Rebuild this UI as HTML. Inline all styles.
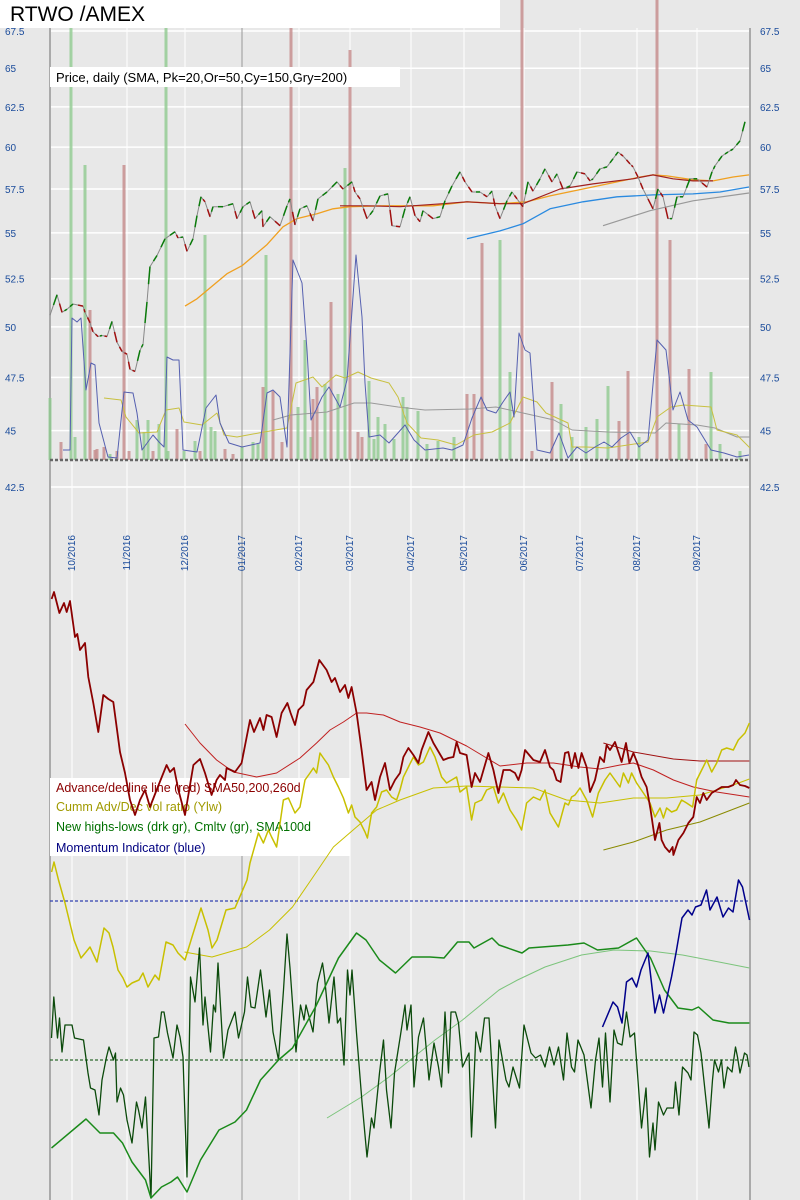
<!DOCTYPE html>
<html><head><meta charset="utf-8">
<style>
html,body{margin:0;padding:0;background:#e8e8e8;}
svg{display:block;font-family:"Liberation Sans","DejaVu Sans",sans-serif;}
</style></head>
<body>
<svg id="chart" width="800" height="1200" viewBox="0 0 800 1200" xmlns="http://www.w3.org/2000/svg">
<rect x="0" y="0" width="800" height="1200" fill="#e8e8e8"/>
<g id="grid"></g>
<g id="legend2">
<rect x="50" y="778" width="300" height="78" fill="#fff"/>
<text x="56" y="792" font-size="12.5" fill="#8b0000">Advance/decline line (red) SMA50,200,260d</text>
<text x="56" y="811" font-size="12.5" fill="#a09a00">Cumm Adv/Dec vol ratio (Ylw)</text>
<text x="56" y="831" font-size="12.5" fill="#007000">New highs-lows (drk gr), Cmltv (gr), SMA100d</text>
<text x="56" y="852" font-size="12.5" fill="#000080">Momentum Indicator (blue)</text>
</g>
<g id="topPanel"></g>
<g id="bottomPanel"></g>
<rect x="0" y="0" width="500" height="28" fill="#fff"/>
<text x="10" y="21" font-size="21" fill="#000">RTWO /AMEX</text>
<rect x="50" y="67" width="350" height="20" fill="#fff"/>
<text x="56" y="82" font-size="13" fill="#000">Price, daily (SMA, Pk=20,Or=50,Cy=150,Gry=200)</text>
</svg>
<script>
// ---------- data ----------
const priceTicks = [67.5,65,62.5,60,57.5,55,52.5,50,47.5,45,42.5];
const monthLabels = ["10/2016","11/2016","12/2016","01/2017","02/2017","03/2017","04/2017","05/2017","06/2017","07/2017","08/2017","09/2017"];
const monthT = [4.4,15.4,27,38.4,49.8,60,72.2,82.8,94.8,106,117.4,129.4];
const priceT = [0,1.4,2.4,3.4,4.6,6.6,7,8,8.6,9.6,10.4,11.4,12.4,13.4,14.4,15.4,16,17,18,18.6,19.4,20,21.4,23,25,25.6,26.6,27.4,28.6,29.4,30.2,31,32,32.6,34.6,36.6,37.4,38.6,40,41,42.4,42.6,44,46,47.4,48,49,50,51.4,52.6,53.6,55.4,57.4,58.6,60.4,61,62,63.4,64.6,66,67.6,68.4,70,71,72,73,74,74.6,76.6,78,79,80.4,82,83,84.4,86,87.4,88.4,89,90,91.4,92.4,93.4,94.6,95.6,96.6,98,99,100.4,101.4,102.6,104,105.4,107,108,108.6,110,111.4,112.6,113.6,114.6,116,116.6,117.6,118.6,120.6,121.6,122.6,123.6,124.4,125.4,126.6,128,129.4,131.4,132.4,133,134.4,135.6,136.6,138,139,139.8];
const priceV = [50.59,51.65,50.74,50.9,51.17,51.06,50.74,50.21,49.75,49.51,49.56,49.51,50.27,49.22,48.77,48.63,47.89,47.79,48.82,49.12,51.28,53.15,53.75,54.67,55.06,54.72,54.77,53.98,54.67,55.97,57.05,56.76,55.91,56.48,56.48,56.65,55.8,56.48,56.76,55.8,56.25,55.34,55.91,55.4,56.53,56.93,55.45,56.36,56.53,55.68,56.93,57.33,57.92,57.5,57.92,57.33,56.93,55.8,56.25,57.1,57.22,55.4,55.34,56.36,57.05,55.97,55.63,56.25,55.8,55.91,56.82,57.68,58.51,57.92,57.33,57.33,57.05,57.38,56.53,55.8,56.82,57.33,56.93,56.48,57.92,57.38,58.1,58.69,57.92,58.39,57.5,57.68,58.51,58.39,57.98,58.1,58.69,58.81,59.29,59.7,59.46,58.99,58.81,58.21,57.5,56.36,57.5,57.05,55.8,55.8,57.05,57.05,58.1,58.1,57.62,58.51,58.87,59.46,59.7,59.88,60.38,61.56];
const sma20T = [58,63.4,70,78.6,83.4,90,94.6,102,108.6,116.6,120.6,124.6,128.6,132.6];
const sma20V = [56.53,56.53,56.48,56.65,56.76,56.65,56.65,57.5,57.8,58.1,58.33,58.1,57.98,57.98];
const sma50T = [27,29.4,35.4,38.4,43.4,46.6,49.4,53.4,56.6,60,66.6,70,76.6,83.4,90,95.4,100,106.6,113.4,118,120.6,123.4,128.6,132.6,136.6,139.8];
const sma50V = [51.06,51.44,52.77,53.2,54.35,55.34,55.8,56.08,56.36,56.48,56.53,56.53,56.53,56.76,56.65,56.76,57.1,57.5,57.92,58.21,58.33,58.27,58.04,57.98,58.21,58.33];
const sma150T = [83.4,90,94.6,100,106.6,113.4,120.6,128.6,134,139.8];
const sma150V = [54.67,55.11,55.51,56.36,56.76,57.05,57.16,57.22,57.33,57.62];
const sma200T = [110.6,120,128.6,139.8];
const sma200V = [55.4,56.25,56.82,57.27];
const volT = [0,2.2,4.2,5,7,8,9,9.4,10.8,12,13.4,14.8,15.8,17.4,18.8,19.6,20.6,21.8,23.2,23.6,25.4,26.8,29,30,31,32.2,33,35,36.6,38.4,40.6,41.6,42.6,43.2,44.6,46.4,48.2,49.6,51,52.2,52.6,53.4,55,56.2,57.6,59,60,61.6,62.4,63.8,64.8,65.6,67,68.8,70.6,71.4,73.6,75.4,77.6,80.8,83.4,84.8,86.4,90,92,94.4,96.4,100.4,102.2,104.4,107.2,109.4,111.6,113.8,115.6,117.8,121.4,124,125.8,127.8,131.2,132.2,134,138];
const volV = [62,18,460,23,295,150,10,11,13,6,9,295,9,40,28,40,9,36,460,9,31,9,19,9,225,33,29,11,6,13,18,16,73,205,69,18,460,53,120,23,61,73,76,158,66,292,410,28,23,79,21,43,36,21,63,53,49,16,19,23,66,66,217,220,88,460,9,78,56,23,33,41,74,39,89,23,460,220,36,91,16,88,16,9];
const volUp = [1,0,1,1,1,0,0,0,0,1,0,0,0,1,1,1,0,1,1,1,0,1,1,0,1,1,1,0,0,1,1,1,0,1,0,0,0,1,1,1,0,0,1,0,1,1,0,0,0,1,1,1,1,1,1,1,1,1,1,1,0,0,0,1,1,0,0,0,1,1,1,1,1,0,0,1,0,0,1,0,0,1,1,1];
const osc1T = [2.6,4,4.4,5.4,6.2,7.2,8.2,9,9.8,11.6,13.4,14.8,16.6,17.4,18.4,20.6,21.8,22.8,23.4,24.6,25.8,26.6,29.4,31.2,33.2,34,35.8,38.4,42,43.4,44.6,46,47.4,48.6,50.4,51.4,52.2,53.2,54.4,55.8,58,59.4,61.2,62.4,63,63.8,66,67.8,71,72.8,75,78.6,80.4,82.6,84.4,86.2,87.4,89.2,90.6,92,92.8,93.8,95,96,97.4,100,101.8,103.6,105.4,107.2,109,110.8,112.4,114.2,116,117.8,119.6,121.4,123.2,124.6,126,127.6,129.4,132.2,134.8,137.4,139.8];
const osc1V = [10,10,142,138,142,70,97,95,37,3,2,68,67,47,10,25,18,13,103,100,100,10,8,52,65,37,17,13,17,67,70,63,13,200,177,110,40,50,63,73,53,80,205,143,77,23,25,17,35,20,10,12,10,15,42,63,50,47,58,68,43,127,110,107,10,7,27,2,13,7,13,18,13,22,28,13,20,120,110,50,68,40,33,10,7,3,5];
const ylwTopT = [10.8,14.2,15.2,17.8,21.4,23.2,25.8,26.8,30.4,33.4,34.8,37.4,42.8,47.4,49.2,52.6,54.4,57.2,59,61.6,64.2,67.8,69.6,71.4,74.2,77.6,81.2,84.8,88.4,92,94.6,97.4,99.2,103.6,104.4,107.2,111.6,119.6,121.4,124.2,126.8,132.2,133.4,137.4,140];
const ylwTopV = [62,60,43,27,28,50,52,38,35,47,25,23,28,32,77,83,73,85,82,88,82,77,63,37,22,20,15,25,28,37,63,58,47,37,13,13,12,18,43,53,55,53,30,25,12];
const grayTopT = [44.6,48.2,55.4,60.8,64.2,69.6,75,84,89.2,94.6,100.8,104.4,111.6,121,123.2,129.4,133,137.4,140];
const grayTopV = [40,45,48,57,57,53,50,51,53,47,40,30,28,27,37,35,32,23,23];
// bottom panel (indicator units)
const adT = [0.33,0.8,1.87,2.8,3.33,4,5,5.47,6,7,7.67,8.67,9.67,10.67,11.67,12.67,14,15,16,17,18,19,20,21.33,23.33,24,24.8,25.67,27,28.67,30,31,32.33,33.33,34,35,35.33,37,38.33,40,40.8,42,42.67,43.33,44.33,45.33,46.33,47.47,48.13,49,49.67,50.67,51.33,52.67,53.87,55.33,56.33,57,58,59,59.67,60.33,61.33,62.33,63.33,64.33,65,66,67,68,69,70,70.67,71.67,72.67,73.67,74.33,75.67,76.67,78.67,79.67,80.67,81.33,82,83.33,84.33,85,86,87.67,88.67,89.67,90.67,92,93,93.67,94.33,95,96.67,98,99,100,100.67,101.33,102.13,103,103.67,104.33,105,105.67,106.33,107.33,108,109,110,110.8,111.33,112,113,114,114.33,115.2,115.87,116.67,117.47,118.33,119.33,120.13,121,121.87,122.33,123,123.87,124.53,124.67,125.67,126.67,127.67,128.67,129.33,130,130.67,131.33,132.33,133.33,134.33,135.67,136.67,137.2,138,139,139.87];
const adV = [401,408,387,397,388,399,363,366,350,357,323,297,268,305,301,298,248,227,200,185,200,210,193,210,235,228,232,210,185,235,241,227,205,220,225,220,232,228,237,280,268,282,270,285,283,263,287,297,287,275,290,295,310,318,340,330,318,322,308,315,302,313,287,250,210,218,200,223,237,210,220,227,243,252,245,237,250,268,257,240,242,243,258,247,245,213,227,218,247,230,207,230,230,227,220,230,250,240,238,250,233,230,220,218,247,248,232,247,232,247,233,208,220,243,238,255,250,258,243,238,257,237,247,237,223,213,190,160,177,160,153,148,153,145,160,167,177,183,203,197,207,200,207,210,213,213,215,220,215,214,212];
const adS1T = [27,30,33.33,36.67,41.33,45.33,50,53.33,56,58.67,61.33,63.33,66.67,70,74,78,83.33,87.33,90,95.33,100.67,106,110,114,116.67,120.67,124.67,128.67,133.33,139.87];
const adS1V = [276,257,240,228,223,227,242,257,270,278,287,287,285,278,273,267,254,242,234,237,237,233,231,235,237,230,220,213,208,203];
const adS2T = [110.67,116.67,124.67,130,139.87];
const adS2V = [257,248,241,239,239];
const ylwT = [0.33,0.8,1.7,3,4.8,6.2,7.2,8,9.4,10.8,11.8,12.6,13.6,14.6,15.4,16.4,17.8,18.6,19.6,21,21.8,23.2,24.6,25.6,27,28.4,30.2,31.6,32.4,33.4,35.2,37,39.4,40,41.67,42.67,43.67,44.33,45.33,46.67,47.67,48.13,49,50,51,52,52.67,53.33,54,54.67,55.67,56.67,57.67,58.67,59.67,60.33,61,62,63,63.47,64.33,65.33,66.33,67.33,68.33,69.33,70,70.67,71.67,72.67,73.67,74.67,76,77,78.33,79.33,80.33,81.33,82,83.33,84.33,85,86.33,87.33,88.67,89.67,90.67,92,93.33,94.33,95.33,96.67,98,99,100,101.67,103,103.67,104.33,105,106,107.33,108.53,109.67,111,112,113,114,114.67,115.67,116.33,117.33,118.67,120,121,122,122.67,123.33,124.33,125.33,126.33,127.33,128.53,129.33,130.33,131.33,132.33,133.33,134.33,135.33,136.67,137.67,139,139.87];
const ylwV = [128,138,120,97,60,42,48,53,38,72,67,53,30,22,13,17,20,27,13,25,20,58,55,47,40,63,92,70,52,60,90,92,120,137,167,157,170,163,153,200,202,197,187,193,220,227,232,227,247,242,235,223,213,202,187,195,183,178,168,162,187,193,208,210,203,200,210,223,233,243,235,238,253,243,223,217,220,223,208,213,180,197,200,210,213,197,207,190,180,170,197,203,200,210,187,173,197,195,203,205,212,200,183,207,220,227,220,213,227,217,227,217,207,197,183,192,182,192,188,190,200,197,193,220,230,240,228,237,250,252,250,260,267,277];
const ylwST = [26.9,32.4,39.3,43.9,48.5,52.2,56.67,61.33,65.33,70,76.67,83.33,90,96.67,103.33,110,116.67,123.33,130,136.67,139.87];
const ylwSV = [48,43,53,70,93,120,153,173,190,200,212,214,213,212,200,197,202,202,205,215,221];
const oliveT = [110.67,116.67,123.33,130,139.87];
const oliveV = [150,158,170,178,197];
const cumT = [0.3,7.2,10,12.7,14.5,16.4,19.1,20.2,22.3,24.2,25.5,27.4,30.1,33.8,37,39.3,42.1,45.7,48.5,53.1,57.7,61.3,63.2,65.9,69.1,72.4,76,78.8,81.5,83.8,84.8,88.4,89.8,94.4,95.8,103.6,106.8,109.5,113.7,117.3,120.1,122.9,125.6,128.4,129.7,132.6,135.8,139.9];
const cumV = [-88,-59,-73,-73,-83,-102,-120,-138,-127,-122,-117,-132,-100,-70,-62,-50,-20,0,12,53,102,127,120,100,87,103,103,102,118,118,112,122,115,107,112,115,117,110,112,122,102,70,52,50,53,40,37,37];
const cumST = [55.4,62.3,67.8,77,82.5,89.8,93.5,99,106.3,112.8,120.1,126.5,133.8,139.9];
const cumSV = [-58,-37,-17,20,40,70,80,93,105,110,109,105,98,92];
const momT = [110.5,112.6,113.5,114.4,115.3,116.4,117.3,118.2,119.6,121,121.9,122.7,124.3,125.2,126.4,127.6,128.4,129.1,130.2,131.3,132,133.4,134.6,135.7,136.6,137.7,138.5,139.9];
const momV = [-127,-102,-107,-123,-82,-78,-87,-70,-53,-113,-95,-113,-77,-53,-18,-10,-15,-7,-5,10,-10,3,-17,-8,-12,20,13,-20];
const nhlT = [0.3,0.75,1.5,1.9,2.4,3,4.4,4.9,6.7,7.6,8.1,9,9.8,10.4,11.3,11.8,12.7,13.1,13.4,14.1,14.7,15.4,16.4,17.3,17.7,18.4,19.1,20.2,20.8,21.7,22.3,22.8,23.5,24.6,25.4,26,26.6,27.4,28.1,29,29.9,30.6,31,32.1,32.7,33.1,33.6,34.7,35.6,37,37.7,38.9,39.5,40.2,41,42.1,43.2,43.9,44.6,45.7,46.7,47.4,48,49.2,50.1,50.8,51.2,52.6,53.5,54.5,54.9,55.8,56.8,57.5,58.1,58.8,59.5,60,60.4,61.3,62.4,63.4,64.3,64.8,65.9,66.7,67.3,68.2,68.9,70.1,71,71.4,72.2,72.8,73.7,74.7,75.8,76.8,77.7,78.3,79,79.7,80.2,81.1,81.7,82.5,83.8,84.3,85.2,86.1,86.9,87.8,89.1,89.8,91.2,91.8,92.6,93.9,94.8,96.2,97.1,98.1,99,99.9,100.8,101.7,102.7,103.4,104.3,104.9,105.6,106.8,108.2,109.1,109.8,110.5,111.1,112,112.8,113.5,114.4,115.3,116,116.9,118.3,119.2,119.9,120.6,121,121.7,122.7,123.4,124.7,125.1,125.8,126.5,127.6,128.2,128.8,129.5,130.2,131.8,132.5,132.9,133.7,134.3,134.8,135.5,136.4,137.1,137.5,138,138.9,139.4,139.8];
const nhlV = [22,63,22,42,8,35,35,22,20,-13,-28,-30,-55,-20,3,13,0,7,-42,-28,-35,-60,-83,-42,-50,-68,-37,-138,22,23,48,48,27,2,35,23,3,-117,83,58,112,35,63,8,55,48,97,2,30,48,22,48,83,53,52,90,43,70,28,0,70,126,92,8,55,40,55,28,77,97,83,37,83,37,42,-5,90,65,90,27,-42,-97,-58,-68,-13,20,-30,-68,-13,25,55,30,55,-27,23,42,-20,17,-7,-27,48,-13,48,48,37,-7,7,-77,28,8,42,42,-68,20,-20,-27,-7,-28,35,7,2,5,-7,13,-5,13,-20,27,-7,-12,20,5,-48,0,22,-27,27,-42,30,17,15,48,23,27,-68,-28,-97,-63,-90,-42,-55,-48,-48,-22,-55,-7,-13,-20,28,25,7,-68,-20,0,-12,0,-28,-7,-12,13,3,-13,7,5,-7];

// ---------- scales ----------
const NS = "http://www.w3.org/2000/svg";
function xScale(t){ return 50 + t*5; }
function yPrice(p){ return 31 + (Math.log(67.5) - Math.log(p)) * 985.7; }
function yVol(v){ return 460 - v; }
function yOsc(v){ return 460 - v; }
function yAD(v){ return 1000 - v; }
function yNhl(v){ return 1060 - v; }
function yMom(v){ return 900 - v; }
function mk(parent, tag, attrs){
  const e = document.createElementNS(NS, tag);
  for (const k in attrs) e.setAttribute(k, attrs[k]);
  parent.appendChild(e); return e;
}
function drawLine(parent, ts, vs, yf, stroke, w, name){
  const pts = ts.map((t,i)=>xScale(t).toFixed(1)+","+yf(vs[i]).toFixed(1)).join(" ");
  const p = mk(parent,"polyline",{points:pts,fill:"none",stroke:stroke,"stroke-width":w,"stroke-linejoin":"round"});
  
  
  return p;
}
const gridG = document.getElementById("grid");
const topG = document.getElementById("topPanel");
const botG = document.getElementById("bottomPanel");

priceTicks.forEach(p=>{
  const y = yPrice(p);
  const g = mk(gridG,"line",{x1:50,x2:750,y1:y,y2:y,stroke:"#fff","stroke-width":1.5});
  
  
  const l = mk(gridG,"text",{x:5,y:y+4,"font-size":10,fill:"#1a4b9b"});
  l.textContent = p;
  
  
  const r = mk(gridG,"text",{x:760,y:y+4,"font-size":10,fill:"#1a4b9b"});
  r.textContent = p;
  
  
});
monthT.forEach((t,i)=>{
  const x = xScale(t);
  const v = mk(gridG,"line",{x1:x,x2:x,y1:28,y2:1200,stroke:i===3?"#999":"#fff","stroke-width":1});
  
  
  const lb = mk(gridG,"text",{x:0,y:0,"font-size":10,fill:"#1a4b9b","text-anchor":"end",transform:"translate("+(x+3)+",535) rotate(-90)"});
  lb.textContent = monthLabels[i];
  
  
});
[50,750].forEach(x=>{
  const b = mk(gridG,"line",{x1:x,x2:x,y1:28,y2:1200,stroke:"#aaa","stroke-width":2});
  
  
});

volT.forEach((t,i)=>{
  const y = Math.max(0, yVol(volV[i]));
  const b = mk(topG,"rect",{x:xScale(t)-1.5,y:y,width:3,height:460-y,fill:volUp[i]?"#8fc98f":"#c48a8a",opacity:0.8});
  
  
});
const base = mk(topG,"line",{x1:50,x2:750,y1:460,y2:460,stroke:"#666","stroke-width":2.5,"stroke-dasharray":"3,2"});



drawLine(topG, grayTopT, grayTopV, yOsc, "#999", 1, "volume-sma-gray");
drawLine(topG, ylwTopT, ylwTopV, yOsc, "#c8c040", 1, "volume-sma-yellow");
drawLine(topG, osc1T, osc1V, yOsc, "#5560b0", 1, "momentum-overlay-line");
drawLine(topG, sma200T, sma200V, yPrice, "#999", 1.2, "sma200-line");
drawLine(topG, sma150T, sma150V, yPrice, "#2a8ae0", 1.3, "sma150-line");
drawLine(topG, sma50T, sma50V, yPrice, "#f0a020", 1.3, "sma50-line");
drawLine(topG, sma20T, sma20V, yPrice, "#a02020", 1.2, "sma20-line");
drawLine(topG, priceT, priceV, yPrice, "#888", 1, "price-line");
priceV.forEach((v,i)=>{
  if (i===0) return;
  const x1 = xScale(priceT[i-1]), x2 = xScale(priceT[i]);
  const y1 = yPrice(priceV[i-1]), y2 = yPrice(v);
  const s = mk(topG,"line",{x1:(x1+x2)/2,y1:(y1+y2)/2,x2:x2,y2:y2,stroke:v>=priceV[i-1]?"#0a7a0a":"#a01010","stroke-width":1.5});
  
  
});

const d1 = mk(botG,"line",{x1:50,x2:750,y1:901,y2:901,stroke:"#3040b0","stroke-width":1.2,"stroke-dasharray":"3,2"});


const d2 = mk(botG,"line",{x1:50,x2:750,y1:1060,y2:1060,stroke:"#2d6a2d","stroke-width":1.2,"stroke-dasharray":"3,2"});


drawLine(botG, cumST, cumSV, yNhl, "#7cc47c", 1, "cumulative-nhl-sma");
drawLine(botG, oliveT, oliveV, yAD, "#8a8a00", 1, "cumm-vol-sma-olive");
drawLine(botG, ylwST, ylwSV, yAD, "#c8c000", 1, "cumm-vol-sma");
drawLine(botG, adS1T, adS1V, yAD, "#c02020", 1, "ad-sma-line");
drawLine(botG, adS2T, adS2V, yAD, "#a01010", 1, "ad-sma-line-2");
drawLine(botG, nhlT, nhlV, yNhl, "#0b4a0b", 1.3, "new-highs-lows-line");
drawLine(botG, cumT, cumV, yNhl, "#1a8a1a", 1.5, "cumulative-nhl-line");
drawLine(botG, ylwT, ylwV, yAD, "#c8c000", 1.5, "cumm-adv-dec-vol-line");
drawLine(botG, adT, adV, yAD, "#8b0000", 1.8, "advance-decline-line");
drawLine(botG, momT, momV, yMom, "#00008b", 1.5, "momentum-line");
</script>
</body></html>
